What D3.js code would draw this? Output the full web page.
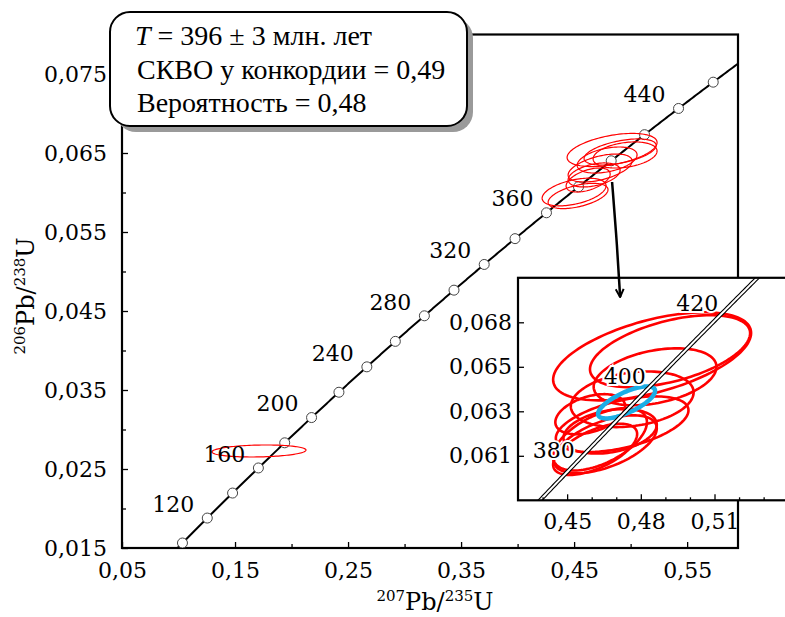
<!DOCTYPE html>
<html>
<head>
<meta charset="utf-8">
<script src="https://cdn.jsdelivr.net/npm/d3@7/dist/d3.min.js"></script>
<style>
  body { margin: 0; background: #fff; }
  svg { display: block; }
</style>
</head>
<body>
<div id="chart"></div>
<script>
// константы распада (1/год)
const L238 = 1.55125e-10
const L235 = 9.8485e-10

// возрасты (млн. лет) на конкордии
const circleAges = [100, 120, 140, 160, 180, 200, 220, 240, 260, 280, 300, 320, 340, 360, 380, 400, 420, 440, 460]
const labelAges = [120, 160, 200, 240, 280, 320, 360, 440]
const insetLabelAges = [380, 400, 420]

// подписи осей
const xTicks = [0.05, 0.15, 0.25, 0.35, 0.45, 0.55]
const xTickLabels = ['0,05', '0,15', '0,25', '0,35', '0,45', '0,55']
const xMinor = [0.10, 0.20, 0.30, 0.40, 0.50]
const yTicks = [0.015, 0.025, 0.035, 0.045, 0.055, 0.065, 0.075]
const yTickLabels = ['0,015', '0,025', '0,035', '0,045', '0,055', '0,065', '0,075']
const yMinor = [0.020, 0.030, 0.040, 0.050, 0.060, 0.070]

const insetXTicks = [0.45, 0.48, 0.51]
const insetXTickLabels = ['0,45', '0,48', '0,51']
const insetXMinor = [0.44, 0.46, 0.47, 0.49, 0.50, 0.52, 0.53]
const insetYTicks = [0.061, 0.063, 0.065, 0.067]
const insetYTickLabels = ['0,061', '0,063', '0,065', '0,068']

// эллипсы погрешностей: [207/235, 206/238, sx, sy, rho]
const grain160 = [0.1712, 0.02728, 0.0416, 0.00076, 0.15]
const mainEllipses = [
    [0.4836, 0.06538, 0.0398, 0.00210, 0.45],
    [0.4907, 0.06513, 0.0319, 0.00165, 0.5],
    [0.4730, 0.06310, 0.0283, 0.00177, 0.5],
    [0.4677, 0.06222, 0.0230, 0.00152, 0.4],
    [0.4500, 0.06006, 0.0283, 0.00175, 0.45],
    [0.4535, 0.05956, 0.0265, 0.00160, 0.5],
    [0.4792, 0.06411, 0.0265, 0.00165, 0.4],
    [0.4951, 0.06475, 0.0283, 0.00165, 0.3],
    [0.4624, 0.06158, 0.0195, 0.00152, 0.5]
]
const insetEllipses = [
    [0.4846, 0.06547, 0.0403, 0.00198, 0.53],
    [0.4919, 0.06570, 0.0326, 0.00162, 0.5],
    [0.4858, 0.06455, 0.0250, 0.00128, 0.35],
    [0.4765, 0.06354, 0.0250, 0.00125, 0.25],
    [0.4634, 0.06174, 0.0191, 0.00140, 0.55],
    [0.4724, 0.06242, 0.0270, 0.00125, 0.5],
    [0.4675, 0.06210, 0.0190, 0.00100, 0.3],
    [0.4594, 0.06287, 0.0142, 0.00090, 0.4],
    [0.4614, 0.06129, 0.0171, 0.00115, 0.6],
    [0.4655, 0.06152, 0.0210, 0.00130, 0.55]
]
const meanEllipse = [0.4742, 0.0634, 0.0116, 0.00072, 0.72]

// стрелка от группы к врезке (в координатах основного графика)
const arrowPts = [[0.4836, 0.06133], [0.4882, 0.0530], [0.4907, 0.04677]]

const boxLines = [
    [['T', true], [' = 396 ± 3 млн. лет', false]],
    [['СКВО у конкордии = 0,49', false]],
    [['Вероятность = 0,48', false]]
]

var width = 785
var height = 617

var svg = d3.select('#chart').append('svg').attr('width', width).attr('height', height)
const serif = "'DejaVu Serif', serif"

function conc(t) {
    return [Math.exp(L235 * t * 1e6) - 1, Math.exp(L238 * t * 1e6) - 1]
}

// точки эллипса
function ellipsePts(e) {
    let pts = []
    for (let i = 0; i < 120; i++) {
        let a = i / 120 * 2 * Math.PI
        pts.push([e[0] + e[2] * Math.cos(a), e[1] + e[3] * (e[4] * Math.cos(a) + Math.sqrt(1 - e[4] * e[4]) * Math.sin(a))])
    }
    return pts
}

var xScale = d3.scaleLinear().domain([0.05, 0.595]).range([122, 738])
var yScale = d3.scaleLinear().domain([0.015, 0.080]).range([548, 34.5])

let defs = svg.append('defs')
defs.append('clipPath').attr('id', 'clip-main').append('rect')
    .attr('x', 122).attr('y', 34.5).attr('width', 616).attr('height', 513.5)

// оси
function styleAxis(g) {
    g.select('.domain').remove()
    g.selectAll('line').attr('stroke', '#000').attr('stroke-width', 1.3)
    g.selectAll('text').attr('font-family', serif).attr('font-size', 22).attr('fill', '#000')
}
svg.append('g').attr('transform', `translate(0,548)`)
    .call(d3.axisBottom(xScale).tickValues(xTicks).tickFormat((d, i) => xTickLabels[i]).tickSizeInner(-6).tickSizeOuter(0).tickPadding(14))
    .call(styleAxis)
svg.append('g').attr('transform', `translate(0,548)`)
    .call(d3.axisBottom(xScale).tickValues(xMinor).tickFormat('').tickSizeInner(-4).tickSizeOuter(0))
    .call(styleAxis)
svg.append('g').attr('transform', `translate(122,0)`)
    .call(d3.axisLeft(yScale).tickValues(yTicks).tickFormat((d, i) => yTickLabels[i]).tickSizeInner(-6).tickSizeOuter(0).tickPadding(15))
    .call(styleAxis)
svg.append('g').attr('transform', `translate(122,0)`)
    .call(d3.axisLeft(yScale).tickValues(yMinor).tickFormat('').tickSizeInner(-4).tickSizeOuter(0))
    .call(styleAxis)

svg.append('rect').attr('x', 122).attr('y', 34.5).attr('width', 616).attr('height', 513.5)
    .attr('fill', 'none').attr('stroke', '#000').attr('stroke-width', 2.2)

// конкордия
const plot = svg.append('g').attr('clip-path', 'url(#clip-main)')
const line = d3.line().x(d => xScale(d[0])).y(d => yScale(d[1]))
plot.append('path').datum(d3.range(96, 500, 1).map(conc))
    .attr('d', line).attr('fill', 'none').attr('stroke', '#000').attr('stroke-width', 2)
plot.selectAll('circle.age').data(circleAges).join('circle').attr('class', 'age')
    .attr('cx', d => xScale(conc(d)[0])).attr('cy', d => yScale(conc(d)[1])).attr('r', 5)
    .attr('fill', '#fff').attr('stroke', '#444').attr('stroke-width', 1)

const closed = d3.line().x(d => xScale(d[0])).y(d => yScale(d[1])).curve(d3.curveLinearClosed)
plot.selectAll('path.ell').data(mainEllipses.concat([grain160])).join('path').attr('class', 'ell')
    .attr('d', d => closed(ellipsePts(d))).attr('fill', 'none').attr('stroke', '#ff0000').attr('stroke-width', 1.2)

svg.selectAll('text.age').data(labelAges).join('text').attr('class', 'age')
    .attr('x', d => xScale(conc(d)[0]) - 34).attr('y', d => yScale(conc(d)[1]) - 14)
    .attr('dy', '0.35em').attr('text-anchor', 'middle')
    .attr('font-family', serif).attr('font-size', 22).text(d => d)

// врезка
const ix = d3.scaleLinear().domain([0.43, 0.54]).range([518, 788.2])
const iy = d3.scaleLinear().domain([0.059, 0.069]).range([500.3, 277.8])
svg.append('rect').attr('x', 518).attr('y', 277.8).attr('width', 290).attr('height', 222.5).attr('fill', '#fff')
defs.append('clipPath').attr('id', 'clip-inset').append('rect')
    .attr('x', 518).attr('y', 277.8).attr('width', 290).attr('height', 222.5)
const inset = svg.append('g').attr('clip-path', 'url(#clip-inset)')
const iclosed = d3.line().x(d => ix(d[0])).y(d => iy(d[1])).curve(d3.curveLinearClosed)
const iline = d3.line().x(d => ix(d[0])).y(d => iy(d[1]))
inset.selectAll('path.iell').data(insetEllipses).join('path').attr('class', 'iell')
    .attr('d', d => iclosed(ellipsePts(d))).attr('fill', 'none').attr('stroke', '#ff0000').attr('stroke-width', 2.6)
inset.append('path').attr('d', iclosed(ellipsePts(meanEllipse)))
    .attr('fill', 'none').attr('stroke', '#1aaee6').attr('stroke-width', 4.5)
let icurve = d3.range(360, 440, 0.5).map(conc)
inset.append('path').datum(icurve).attr('d', iline).attr('fill', 'none').attr('stroke', '#000').attr('stroke-width', 4.2)
inset.append('path').datum(icurve).attr('d', iline).attr('fill', 'none').attr('stroke', '#fff').attr('stroke-width', 2)
inset.selectAll('text').data(insetLabelAges).join('text')
    .attr('x', d => ix(conc(d)[0]) - 23).attr('y', d => iy(conc(d)[1]) - 12)
    .attr('dy', '0.35em').attr('text-anchor', 'middle')
    .attr('font-family', serif).attr('font-size', 22)
    .attr('stroke', '#fff').attr('stroke-width', 4).attr('paint-order', 'stroke').text(d => d)

svg.append('g').attr('transform', `translate(0,500.3)`)
    .call(d3.axisBottom(ix).tickValues(insetXTicks).tickFormat((d, i) => insetXTickLabels[i]).tickSizeInner(-6).tickSizeOuter(0).tickPadding(13))
    .call(styleAxis)
svg.append('g').attr('transform', `translate(0,500.3)`)
    .call(d3.axisBottom(ix).tickValues(insetXMinor).tickFormat('').tickSizeInner(-3).tickSizeOuter(0))
    .call(styleAxis)
svg.append('g').attr('transform', `translate(518,0)`)
    .call(d3.axisLeft(iy).tickValues(insetYTicks).tickFormat((d, i) => insetYTickLabels[i]).tickSizeInner(-6).tickSizeOuter(0).tickPadding(6))
    .call(styleAxis)
svg.append('rect').attr('x', 518).attr('y', 277.8).attr('width', 290).attr('height', 222.5)
    .attr('fill', 'none').attr('stroke', '#000').attr('stroke-width', 2.2)

// стрелка (поверх врезки)
defs.append('marker').attr('id', 'arrow').attr('viewBox', '0 0 10 10').attr('refX', 9).attr('refY', 5)
    .attr('markerWidth', 4).attr('markerHeight', 4).attr('orient', 'auto')
    .append('path').attr('d', 'M1,1 L9,5 L1,9').attr('fill', 'none').attr('stroke', '#000').attr('stroke-width', 2)
svg.append('path')
    .attr('d', d3.line().curve(d3.curveBasis).x(d => xScale(d[0])).y(d => yScale(d[1]))(arrowPts))
    .attr('fill', 'none').attr('stroke', '#000').attr('stroke-width', 2.5).attr('marker-end', 'url(#arrow)')

// подписи осей
let xt = svg.append('text').attr('x', 435).attr('y', 610).attr('text-anchor', 'middle')
    .attr('font-family', serif).attr('font-size', 24)
xt.append('tspan').attr('font-size', 15).attr('dy', -9).text('207')
xt.append('tspan').attr('dy', 9).text('Pb/')
xt.append('tspan').attr('font-size', 15).attr('dy', -9).text('235')
xt.append('tspan').attr('dy', 9).text('U')

let yt = svg.append('text').attr('transform', 'translate(34,296) rotate(-90)').attr('text-anchor', 'middle')
    .attr('font-family', serif).attr('font-size', 24)
yt.append('tspan').attr('font-size', 15).attr('dy', -9).text('206')
yt.append('tspan').attr('dy', 9).text('Pb/')
yt.append('tspan').attr('font-size', 15).attr('dy', -9).text('238')
yt.append('tspan').attr('dy', 9).text('U')

// блок с результатом
svg.append('rect').attr('x', 116).attr('y', 18).attr('width', 357).attr('height', 114).attr('rx', 20)
    .attr('fill', '#9a9a9a')
svg.append('rect').attr('x', 110).attr('y', 12).attr('width', 357).attr('height', 114).attr('rx', 20)
    .attr('fill', '#fff').attr('stroke', '#000').attr('stroke-width', 2)
const lineY = [45, 79, 112]
boxLines.forEach((parts, i) => {
    let t = svg.append('text').attr('x', i === 0 ? 135 : 137).attr('y', lineY[i])
        .attr('font-family', "'Liberation Serif', 'Times New Roman', serif").attr('font-size', 28)
    parts.forEach(p => t.append('tspan').attr('font-style', p[1] ? 'italic' : 'normal').text(p[0]))
})
</script>
</body>
</html>
